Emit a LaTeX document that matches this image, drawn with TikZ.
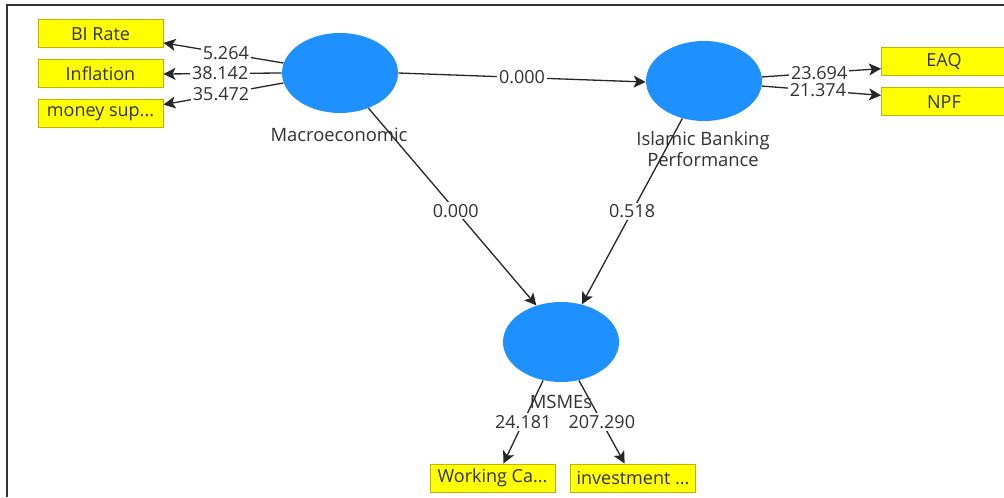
\documentclass[tikz,border=0pt]{standalone}
\usepackage{fontspec}
\setmainfont{Open Sans}
\usetikzlibrary{shapes.geometric,arrows.meta}
\definecolor{lvblue}{RGB}{30,144,255}
\definecolor{mvyellow}{RGB}{255,255,0}
\definecolor{mvborder}{RGB}{190,180,0}
\definecolor{txtgray}{RGB}{50,50,50}
\begin{document}
\begin{tikzpicture}[x=0.5pt,y=-0.5pt,
  lv/.style={ellipse, fill=lvblue, minimum width=58pt, minimum height=40pt, inner sep=0pt},
  mv/.style={rectangle, fill=mvyellow, draw=mvborder, line width=0.5pt, minimum width=62.5pt, minimum height=14pt, inner sep=0pt, font=\fontsize{9}{11}\selectfont, text=txtgray},
  lvlab/.style={font=\fontsize{9.2}{9}\selectfont, text=txtgray, align=center, inner sep=0pt},
  conn/.style={draw=black!85, line width=0.65pt, -{Stealth[length=6pt,width=6pt,inset=1.5pt]}},
  val/.style={fill=white, inner sep=1pt, font=\fontsize{9}{10}\selectfont, text=txtgray}]
\clip (0,0) rectangle (1004,497);
\fill[white] (0,0) rectangle (1004,497);
\draw[line width=1.2pt, black!80] (7,497) -- (7,5) -- (1004,5);
% indicator boxes
\node[mv] (bi) at (100.5,34) {BI Rate};
\node[mv] (infl) at (100.5,74) {Inflation};
\node[mv] (money) at (100.5,113.5) {money sup...};
\node[mv] (eaq) at (944,62) {EAQ};
\node[mv] (npf) at (944,102) {NPF};
\node[mv] (wc) at (492.5,478) {Working Ca...};
\node[mv] (inv) at (633,478) {investment ...};
% latent variables
\node[lv] (macro) at (340,73) {};
\node[lv] (ibp) at (704,81) {};
\node[lv] (msme) at (561,342) {};
\node[lvlab] (macrolab) at (339,135) {Macroeconomic};
\node[lvlab] (ibplab) at (703,149) {Islamic Banking\\Performance};
\node[lvlab] (msmelab) at (561,402) {MSMEs};
% connectors
\draw[conn] (macro.170) -- node[val,pos=0.48]{5.264} (bi.-8);
\draw[conn] (macro.180) -- node[val,pos=0.52]{38.142} (infl.east);
\draw[conn] (macro.190) -- node[val,pos=0.52]{35.472} (money.8);
\draw[conn] (macro.east) -- node[val]{0.000} (ibp.181);
\draw[conn] (macro.-51) -- node[val,pos=0.52]{0.000} (msme.124);
\draw[conn] (ibp.240) -- node[val]{0.518} (msme.61);
\draw[conn] (ibp.4) -- node[val,pos=0.48]{23.694} (eaq.186);
\draw[conn] (ibp.-5) -- node[val,pos=0.47]{21.374} (npf.174);
\draw[conn] (msme.245) -- node[val]{24.181} (wc.53);
\draw[conn] (msme.295) -- node[val]{207.290} (inv.120);
\end{tikzpicture}
\end{document}
